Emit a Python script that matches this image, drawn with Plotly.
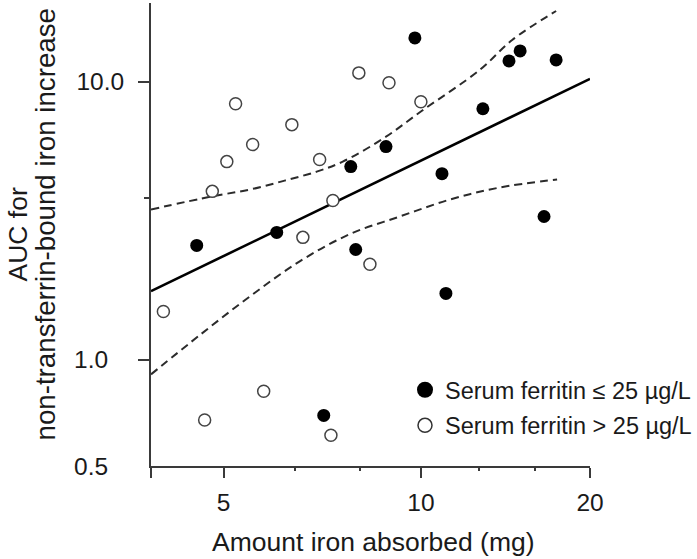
import numpy as np
import plotly.graph_objects as go

# ---------------- data ----------------
# Serum ferritin <= 25 ug/L (filled)
fe_low_x = [4.61, 5.93, 6.97, 7.68, 7.82, 8.75, 9.77, 10.86, 11.03, 12.79, 14.23, 14.90, 16.46, 17.32]
fe_low_y = [2.45, 2.73, 0.68, 4.77, 2.37, 5.67, 14.68, 4.49, 1.66, 7.88, 11.99, 13.09, 3.12, 12.09]

# Serum ferritin > 25 ug/L (open)
fe_high_x = [4.19, 4.72, 4.83, 5.05, 5.19, 5.48, 5.68, 6.24, 6.48, 6.87, 7.15, 7.20, 7.91, 8.24, 8.85, 10.00]
fe_high_y = [1.44, 0.66, 3.86, 4.98, 8.23, 5.77, 0.80, 6.86, 2.62, 5.07, 0.60, 3.57, 10.79, 2.10, 9.89, 8.38]

# regression line
fit_x = [4.05, 20.0]
fit_y = [1.69, 10.24]

# confidence band
ci_up_x = [4.05, 4.83, 5.43, 6.09, 6.80, 7.46, 8.65, 10.04, 12.64, 14.42, 17.32]
ci_up_y = [3.31, 3.70, 3.92, 4.23, 4.57, 4.98, 6.07, 7.74, 11.09, 14.42, 18.63]
ci_lo_x = [4.05, 4.65, 5.43, 6.41, 7.65, 9.22, 11.21, 13.71, 17.39]
ci_lo_y = [0.90, 1.20, 1.62, 2.15, 2.69, 3.12, 3.60, 3.99, 4.27]

# axes
x_range = [4.05, 20]
y_range = [0.5, 20]
x_ticks = [5, 10, 20]
x_tick_labels = ["5", "10", "20"]
x_minor_ticks = [6.3, 7.94, 12.6, 15.87]
y_tick_hi = [10]
y_tick_hi_labels = ["10.0"]
y_tick_lo = [0.5, 1]
y_tick_lo_labels = ["0.5", "1.0"]
y_minor_ticks = [3.65]

legend_labels = ["Serum ferritin \u2264 25 \u00b5g/L", "Serum ferritin > 25 \u00b5g/L"]

# the reference's axes are logarithmic with a small offset
X_SHIFT = 1.7
Y_SHIFT = 0.185


def tx(v):
    return np.log10(np.asarray(v, dtype=float) - X_SHIFT)


def ty(v):
    return np.log10(np.asarray(v, dtype=float) - Y_SHIFT)


FONT = "Liberation Sans, Arial, sans-serif"
AX = "#3a3a3a"
TXT = "#1a1a1a"

fig = go.Figure()

fig.add_trace(go.Scatter(x=tx(ci_up_x), y=ty(ci_up_y), mode="lines", line_shape="spline",
                         line=dict(color="#2b2b2b", width=2, dash="8px,5px"), showlegend=False,
                         hoverinfo="skip"))
fig.add_trace(go.Scatter(x=tx(ci_lo_x), y=ty(ci_lo_y), mode="lines", line_shape="spline",
                         line=dict(color="#2b2b2b", width=2, dash="8px,5px"), showlegend=False,
                         hoverinfo="skip"))
fig.add_trace(go.Scatter(x=tx(fit_x), y=ty(fit_y), mode="lines",
                         line=dict(color="black", width=2.6), showlegend=False))

fig.add_trace(go.Scatter(x=tx(fe_high_x), y=ty(fe_high_y), mode="markers", showlegend=False,
                         marker=dict(symbol="circle", size=12, color="white",
                                     line=dict(color="#444444", width=1.5))))
fig.add_trace(go.Scatter(x=tx(fe_low_x), y=ty(fe_low_y), mode="markers", showlegend=False,
                         marker=dict(symbol="circle", size=13, color="black",
                                     line=dict(color="black", width=0))))

# legend entries
fig.add_trace(go.Scatter(x=[None], y=[None], mode="markers", name=legend_labels[0], yaxis="y2",
                         legendgroup="a",
                         marker=dict(symbol="circle", size=16, color="black", line=dict(width=0))))
fig.add_trace(go.Scatter(x=[None], y=[None], mode="markers", name=legend_labels[1], yaxis="y2",
                         legendgroup="b",
                         marker=dict(symbol="circle", size=14, color="white",
                                     line=dict(color="#333333", width=1.5))))

fig.update_layout(
    width=697, height=559,
    margin=dict(l=151, r=107, t=3, b=93, autoexpand=False),
    paper_bgcolor="white", plot_bgcolor="white",
    font=dict(family=FONT, color=TXT),
    xaxis=dict(range=list(tx(x_range)), tickvals=list(tx([x_range[0]] + x_ticks)),
               ticktext=[""] + x_tick_labels, ticks="outside", ticklen=10, tickwidth=2,
               tickcolor=AX, showline=True, linewidth=2, linecolor=AX, showgrid=False,
               zeroline=False, tickfont=dict(size=24.5, family=FONT, color=TXT),
               ticklabelstandoff=4,
               minor=dict(tickvals=list(tx(x_minor_ticks)), ticks="outside", ticklen=3,
                          tickwidth=2, tickcolor=AX, showgrid=False)),
    yaxis=dict(range=list(ty(y_range)), tickvals=list(ty([1] + y_tick_hi)),
               ticktext=[""] + y_tick_hi_labels, ticks="outside", ticklen=11, tickwidth=2,
               tickcolor=AX, showline=True, linewidth=2, linecolor=AX, showgrid=False,
               zeroline=False, tickfont=dict(size=24.5, family=FONT, color=TXT),
               ticklabelstandoff=9,
               minor=dict(tickvals=list(ty(y_minor_ticks)), ticks="outside", ticklen=5,
                          tickwidth=2, tickcolor=AX, showgrid=False)),
    yaxis2=dict(overlaying="y", side="left", range=list(ty(y_range)),
                tickvals=list(ty(y_tick_lo)), ticktext=y_tick_lo_labels,
                ticks="outside", ticklen=11, tickcolor="rgba(0,0,0,0)", showline=False,
                showgrid=False, zeroline=False,
                tickfont=dict(size=24.5, family=FONT, color=TXT),
                ticklabelstandoff=26),
    legend=dict(x=(405 - 151) / 439, xanchor="left", y=(466 - 368) / 463, yanchor="top",
                bgcolor="rgba(0,0,0,0)", borderwidth=0, tracegroupgap=2,
                font=dict(size=23.5, family=FONT, color=TXT), itemsizing="trace"),
    annotations=[
        dict(text="Amount iron absorbed (mg)", xref="paper", yref="paper",
             x=(373 - 151) / 439, y=0, yshift=-76, xanchor="center", yanchor="middle",
             showarrow=False, font=dict(size=26.5, family=FONT, color=TXT)),
        dict(text="AUC for", xref="paper", yref="paper", x=0, xshift=17 - 151,
             y=0.5, xanchor="center", yanchor="middle", textangle=-90, showarrow=False,
             font=dict(size=26.5, family=FONT, color=TXT)),
        dict(text="non-transferrin-bound iron increase", xref="paper", yref="paper", x=0,
             xshift=45 - 151, y=0.5, yshift=10, xanchor="center", yanchor="middle",
             textangle=-90, showarrow=False,
             font=dict(size=27.7, family=FONT, color=TXT)),
    ],
)

# the page's default 8px body margin would offset the 697x559 figure
fig.write_html("out.html", config={"displayModeBar": False},
               post_script="document.body.style.margin='0';")
